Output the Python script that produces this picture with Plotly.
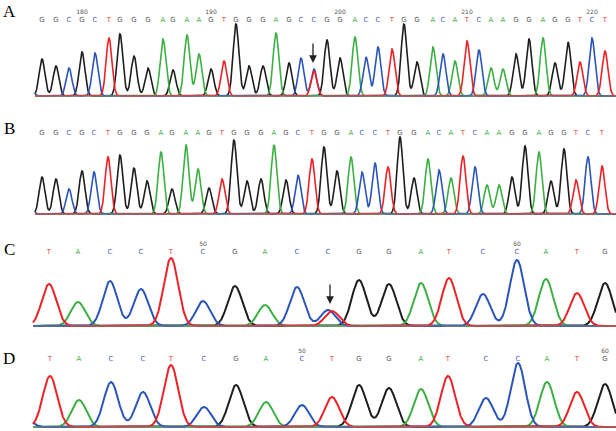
import numpy as np
import plotly.graph_objects as go

W, H = 616, 431

# ---------------- data ----------------
A_seq = "GGCGCTGGGAGAAGTGGGAGCCGGACCTGGACATCAAGGAGGTCT"
A_pos = [42, 56, 69, 82, 95, 109, 120, 134, 148, 163, 173, 187, 199, 211, 224, 236, 249, 263, 276, 289,
         301, 314, 327, 340, 355, 366, 378, 392, 404, 417, 433, 443, 455, 467, 479, 491, 503, 516, 529, 543,
         555, 568, 580, 592, 605]
A_hts = [37, 30, 28, 44, 43, 58, 62, 40, 28, 57, 26, 61, 42, 27, 35, 72, 30, 30, 63, 33,
         38, 27, 56, 38, 59, 39, 49, 47, 72, 34, 49, 42, 35, 55, 46, 28, 27, 42, 57, 58,
         33, 54, 34, 58, 45]
A_mix_base = ["T", "C"]
A_mix_pos = [314, 30]
A_mix_hts = [25, 10]
A_num_idx = [3, 13, 23, 33, 43]
A_num_txt = ["180", "190", "200", "210", "220"]
A_arrow_x = 313

B_seq = "GGCGCTGGGAGAAGTGGGAGCTGGACCTGGACATCAAGGAGGTCT"
B_pos = [42, 56, 69, 82, 94, 108, 120, 134, 147, 161, 172, 186, 198, 209, 222, 234, 247, 261, 274, 286,
         298, 312, 324, 337, 351, 362, 375, 388, 400, 414, 428, 439, 451, 463, 475, 487, 499, 512, 525, 539,
         551, 564, 576, 588, 602]
B_hts = [37, 35, 25, 43, 42, 57, 59, 46, 33, 62, 25, 69, 45, 26, 35, 74, 33, 35, 69, 34,
         39, 55, 67, 43, 57, 42, 51, 47, 77, 36, 55, 44, 36, 58, 47, 29, 29, 37, 68, 62,
         33, 65, 34, 57, 48]
B_mix_base = ["C"]
B_mix_pos = [30]
B_mix_hts = [8]

C_seq = "TACCTCGACCGGATCCATG"
C_pos = [49, 78, 110, 141, 171, 203, 235, 265, 297, 328, 359, 389, 421, 449, 483, 517, 546, 577, 605]
C_hts = [42, 24, 45, 37, 68, 25, 40, 21, 39, 16, 46, 42, 43, 48, 32, 66, 47, 33, 43]
C_mix_base = ["T"]
C_mix_pos = [332]
C_mix_hts = [15]
C_num_idx = [5, 15]
C_num_txt = ["50", "60"]
C_arrow_x = 330

D_seq = "TACCTCGACTGGATCCATG"
D_pos = [50, 79, 111, 143, 171, 204, 236, 266, 302, 332, 359, 389, 421, 448, 486, 518, 547, 577, 605]
D_hts = [51, 27, 45, 35, 62, 20, 42, 25, 22, 30, 42, 39, 38, 51, 29, 64, 45, 35, 43]
D_mix_base = ["C"]
D_mix_pos = [22]
D_mix_hts = [15]
D_num_idx = [8, 18]
D_num_txt = ["50", "60"]

# ---------------- styling ----------------
TRACE_COL = {"G": "#1e1e1e", "A": "#3cb043", "C": "#2b55b8", "T": "#ec2227"}
LETTER_COL = {"G": "#5a5a5a", "A": "#45b04a", "C": "#4f62c9", "T": "#ea3c3c"}
ORDER = ["G", "A", "C", "T"]

panels = [
    dict(name="A", seq=A_seq, pos=A_pos, hts=A_hts, mb=A_mix_base, mp=A_mix_pos, mh=A_mix_hts,
         nidx=A_num_idx, ntxt=A_num_txt, arrow=A_arrow_x, sigma=2.9, x0=35, base=96, top=92,
         lw=1.6, let_v=76, num_v=84, label_py=12),
    dict(name="B", seq=B_seq, pos=B_pos, hts=B_hts, mb=B_mix_base, mp=B_mix_pos, mh=B_mix_hts,
         nidx=[], ntxt=[], arrow=None, sigma=2.9, x0=35, base=214, top=92,
         lw=1.6, let_v=81, num_v=89, label_py=128),
    dict(name="C", seq=C_seq, pos=C_pos, hts=C_hts, mb=C_mix_base, mp=C_mix_pos, mh=C_mix_hts,
         nidx=C_num_idx, ntxt=C_num_txt, arrow=C_arrow_x, sigma=7.2, x0=33, base=326, top=90,
         lw=2.0, let_v=74, num_v=82, label_py=249),
    dict(name="D", seq=D_seq, pos=D_pos, hts=D_hts, mb=D_mix_base, mp=D_mix_pos, mh=D_mix_hts,
         nidx=D_num_idx, ntxt=D_num_txt, arrow=None, sigma=7.2, x0=33, base=427, top=80,
         lw=2.0, let_v=68, num_v=76, label_py=358),
]

fig = go.Figure()
layout = dict(width=W, height=H, margin=dict(l=0, r=0, t=0, b=0),
              paper_bgcolor="white", plot_bgcolor="white", showlegend=False)
annotations = []

for i, p in enumerate(panels):
    k = "" if i == 0 else str(i + 1)
    xa, ya = "x" + k, "y" + k
    x = np.linspace(p["x0"], W, 2000)
    chans = {b: np.zeros_like(x) for b in ORDER}
    bases = list(p["seq"]) + list(p["mb"])
    poss = list(p["pos"]) + list(p["mp"])
    hts = list(p["hts"]) + list(p["mh"])
    for b, c, h in zip(bases, poss, hts):
        chans[b] += h * np.exp(-((x - c) ** 2) / (2 * p["sigma"] ** 2))
    for b in ORDER:
        fig.add_trace(go.Scatter(x=x, y=chans[b], mode="lines", xaxis=xa, yaxis=ya,
                                 line=dict(color=TRACE_COL[b], width=p["lw"]), hoverinfo="skip"))
    fig.add_trace(go.Scatter(x=[p["x0"], W], y=[0, 0], mode="lines", xaxis=xa, yaxis=ya,
                             line=dict(color="#808080", width=1.2), hoverinfo="skip"))
    # base letters
    fig.add_trace(go.Scatter(x=p["pos"], y=[p["let_v"]] * len(p["seq"]), mode="text",
                             text=list(p["seq"]), xaxis=xa, yaxis=ya, cliponaxis=False,
                             textfont=dict(size=7, family="DejaVu Sans",
                                           color=[LETTER_COL[b] for b in p["seq"]]),
                             hoverinfo="skip"))
    # position numbers
    if p["nidx"]:
        fig.add_trace(go.Scatter(x=[p["pos"][j] for j in p["nidx"]], y=[p["num_v"]] * len(p["nidx"]),
                                 mode="text", text=p["ntxt"], xaxis=xa, yaxis=ya, cliponaxis=False,
                                 textfont=dict(size=6, family="DejaVu Sans", color="#555555"),
                                 hoverinfo="skip"))
    dom_bot = 1 - (p["base"] + 4) / H
    dom_top = 1 - (p["base"] - p["top"]) / H
    ax_common = dict(visible=False, showgrid=False, zeroline=False)
    layout["xaxis" + k] = dict(domain=[0, 1], range=[0, W], anchor=ya, **ax_common)
    layout["yaxis" + k] = dict(domain=[max(dom_bot, 0), min(dom_top, 1)], range=[-4, p["top"]],
                               anchor=xa, **ax_common)
    annotations.append(dict(text=p["name"], x=9 / W, y=1 - p["label_py"] / H, xref="paper", yref="paper",
                            showarrow=False, xanchor="center", yanchor="middle",
                            font=dict(family="Liberation Serif", size=17, color="black")))
    if p["arrow"] is not None:
        j = int(np.argmin([abs(c - p["arrow"]) for c in p["pos"]]))
        annotations.append(dict(x=p["arrow"], y=p["hts"][j] + 6, xref=xa, yref=ya, text="",
                                showarrow=True, ax=0, ay=-21, arrowhead=2, arrowsize=1.2,
                                arrowwidth=1.3, arrowcolor="#222222"))

layout["annotations"] = annotations
fig.update_layout(**layout)
fig.write_html("out.html")
